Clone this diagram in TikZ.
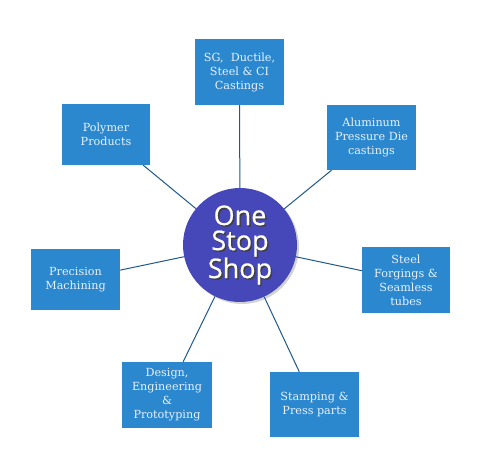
\documentclass[tikz,border=0pt]{standalone}
\usepackage{fontspec}
\setmainfont{DejaVu Serif}
\newfontfamily\hubfont[FakeBold=0.6]{Open Sans}
\usetikzlibrary{shadows}

\definecolor{boxblue}{RGB}{43,135,206}
\definecolor{hubblue}{RGB}{70,72,186}
\definecolor{spoke}{RGB}{31,88,140}
\definecolor{boxtext}{RGB}{232,242,252}

\begin{document}
\begin{tikzpicture}[x=1pt,y=-1pt,
   item/.style={fill=boxblue,text=boxtext,align=center,inner sep=0pt,
     font=\fontsize{11.2}{14}\selectfont},
   hub/.style={circle,fill=hubblue,minimum size=114pt,inner sep=0pt,
     drop shadow={opacity=0.35,shadow xshift=2pt,shadow yshift=-2pt}},
   hubword/.style={align=center,font=\hubfont\fontsize{27}{25}\selectfont},
   spoke/.style={draw=spoke,line width=1pt}]
   \useasboundingbox (0,0) rectangle (480,470);
   \node[hub] (shop) at (240,245) {};
   \node[hubword,text=black!75] (hubshade) at (241.5,246.5) {One\\Stop\\Shop};
   \node[hubword,text=white] (hubtext) at (240,245) {One\\Stop\\Shop};
   \node[item,minimum width=89pt,minimum height=66pt] (castings) at (239.5,72)
     {SG,~ Ductile,\\Steel \& CI\\Castings};
   \node[item,minimum width=89pt,minimum height=65pt] (alu) at (371.5,137.5)
     {Aluminum\\Pressure Die\\castings};
   \node[item,minimum width=88pt,minimum height=61pt] (polymer) at (106,134.5)
     {Polymer\\Products};
   \node[item,minimum width=88pt,minimum height=66pt] (forgings) at (406,280)
     {Steel\\Forgings \&\\Seamless\\tubes};
   \node[item,minimum width=89pt,minimum height=61pt] (machining) at (75.5,279.5)
     {Precision\\Machining};
   \node[item,minimum width=90pt,minimum height=66pt] (design) at (167,395)
     {Design,\\Engineering\\\&\\Prototyping};
   \node[item,minimum width=89pt,minimum height=65pt] (stamping) at (314.5,404.5)
     {Stamping \&\\Press parts};
   \foreach \b in {castings,alu,polymer,forgings,machining,design,stamping}
     \path[spoke] (shop) -- (\b);
\end{tikzpicture}
\end{document}
